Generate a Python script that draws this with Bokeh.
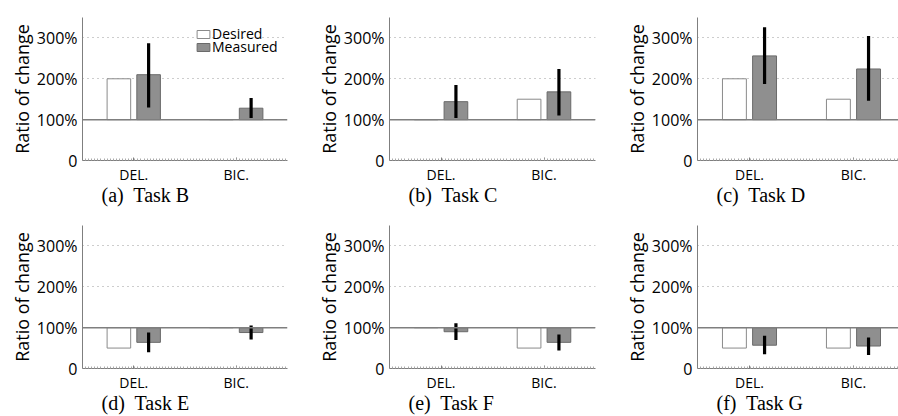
import numpy as np
from bokeh.plotting import figure
from bokeh.models import ColumnDataSource, Range1d, FixedTicker, Span, Legend, LegendItem
from bokeh.transform import dodge
from bokeh.layouts import column, row
from bokeh.embed import file_html
from bokeh.resources import INLINE

# ---- data (ratio of change, 1.0 = 100%) ----
letters = ["a", "b", "c", "d", "e", "f"]
tasks = ["Task B", "Task C", "Task D", "Task E", "Task F", "Task G"]
categories = ["DEL.", "BIC."]
desired_del = [2.00, 1.00, 2.00, 0.50, 1.00, 0.50]
desired_bic = [1.00, 1.50, 1.50, 1.00, 0.50, 0.50]
measured_del = [2.10, 1.44, 2.56, 0.64, 0.90, 0.57]
measured_bic = [1.28, 1.68, 2.24, 0.88, 0.64, 0.55]
err_lo_del = [1.30, 1.04, 1.87, 0.40, 0.70, 0.35]
err_hi_del = [2.87, 1.85, 3.26, 0.88, 1.11, 0.80]
err_lo_bic = [1.04, 1.10, 1.46, 0.71, 0.44, 0.33]
err_hi_bic = [1.53, 2.24, 3.05, 1.05, 0.83, 0.76]
y_ticks = [0, 1, 2, 3]
y_tick_labels = ["0", "100%", "200%", "300%"]
baseline = 1.0

SANS = "Open Sans"
SERIF = "Liberation Serif"
GRAY = "#7f7f7f"


def make(i, width, height, left, right, top, bottom, xend, legend=False):
    p = figure(width=width, height=height,
               x_range=Range1d(0, xend), y_range=Range1d(0, 3.5),
               output_backend="svg", toolbar_location=None,
               min_border_left=left, min_border_right=right,
               min_border_top=top, min_border_bottom=bottom,
               title=f"({letters[i]})\u00a0 {tasks[i]}", title_location="below")
    p.outline_line_color = None
    p.background_fill_color = "white"
    p.border_fill_color = "white"

    xs = [k + 0.5 for k in range(len(categories))]
    src = ColumnDataSource(dict(
        x=xs,
        desired=[desired_del[i], desired_bic[i]],
        measured=[measured_del[i], measured_bic[i]],
        lo=[err_lo_del[i], err_lo_bic[i]],
        hi=[err_hi_del[i], err_hi_bic[i]],
        base=[baseline] * len(categories),
    ))

    span = Span(location=baseline, dimension="width", line_color=GRAY, line_width=1.5)
    p.add_layout(span)

    r_des = p.vbar(x=dodge("x", -0.145), top="desired", bottom="base", width=0.23,
                   source=src, fill_color="white", line_color="#8a8a8a", line_width=1)
    r_mea = p.vbar(x=dodge("x", 0.145), top="measured", bottom="base", width=0.23,
                   source=src, fill_color="#8f8f8f", line_color="#6a6a6a", line_width=1)
    p.segment(x0=dodge("x", 0.145), y0="lo", x1=dodge("x", 0.145), y1="hi",
              source=src, line_color="black", line_width=3.2)

    # x axis
    xa = p.xaxis[0]
    xa.ticker = FixedTicker(ticks=xs, minor_ticks=list(np.arange(0, xend + 0.001, 0.03)))
    xa.major_label_overrides = {x: c for x, c in zip(xs, categories)}
    xa.axis_line_color = GRAY
    xa.major_tick_line_color = GRAY
    xa.major_tick_in = 3
    xa.major_tick_out = 0
    xa.minor_tick_line_color = "#aaaaaa"
    xa.minor_tick_in = 2
    xa.minor_tick_out = 0
    xa.major_label_standoff = 4
    xa.major_label_text_font = SANS
    xa.major_label_text_font_size = "14px"
    xa.major_label_text_color = "black"

    # y axis
    ya = p.yaxis[0]
    ya.ticker = FixedTicker(ticks=y_ticks)
    ya.major_label_overrides = {t: l for t, l in zip(y_ticks, y_tick_labels)}
    ya.axis_line_color = GRAY
    ya.major_tick_line_color = None
    ya.major_tick_in = 0
    ya.major_tick_out = 0
    ya.minor_tick_line_color = None
    ya.major_label_standoff = 5
    ya.major_label_text_font = SANS
    ya.major_label_text_font_size = "16px"
    ya.major_label_text_color = "black"
    ya.axis_label = "Ratio of change"
    ya.axis_label_text_font = SANS
    ya.axis_label_text_font_size = "18px"
    ya.axis_label_text_font_style = "normal"
    ya.axis_label_text_color = "black"
    ya.axis_label_standoff = 0

    p.xgrid.visible = False
    p.ygrid.ticker = FixedTicker(ticks=[1, 2, 3])
    p.ygrid.grid_line_color = "#9a9a9a"
    p.ygrid.grid_line_dash = "1 4"
    p.ygrid.grid_line_width = 1

    p.title.text_font = SERIF
    p.title.text_font_size = "20px"
    p.title.text_font_style = "normal"
    p.title.text_color = "black"
    p.title.align = "left"
    p.title.offset = 19
    p.title.standoff = -10

    if legend:
        for lab, r, ybot in (("Desired", r_des, 117), ("Measured", r_mea, 104)):
            lg = Legend(items=[LegendItem(label=lab, renderers=[r])],
                        location=(113, ybot), orientation="vertical",
                        glyph_width=16, glyph_height=10, label_height=10,
                        label_standoff=1, padding=0, margin=0, spacing=0,
                        border_line_color=None, background_fill_alpha=0,
                        label_text_font=SANS, label_text_font_size="14px",
                        label_text_color="black")
            p.add_layout(lg)
    return p


pa = make(0, 300, 208, 82, 13, 17, 48, 2.0, legend=True)
pb = make(1, 300, 208, 89, 5, 17, 48, 2.0)
pc = make(2, 298, 208, 97, 0, 17, 48, 1.933)
pd = make(3, 300, 208, 82, 13, 17, 48, 2.0)
pe = make(4, 300, 208, 89, 5, 17, 48, 2.0)
pf = make(5, 298, 208, 97, 0, 17, 48, 1.933)

layout = column(row(pa, pb, pc), row(pd, pe, pf))
open("out.html", "w").write(file_html(layout, INLINE))
